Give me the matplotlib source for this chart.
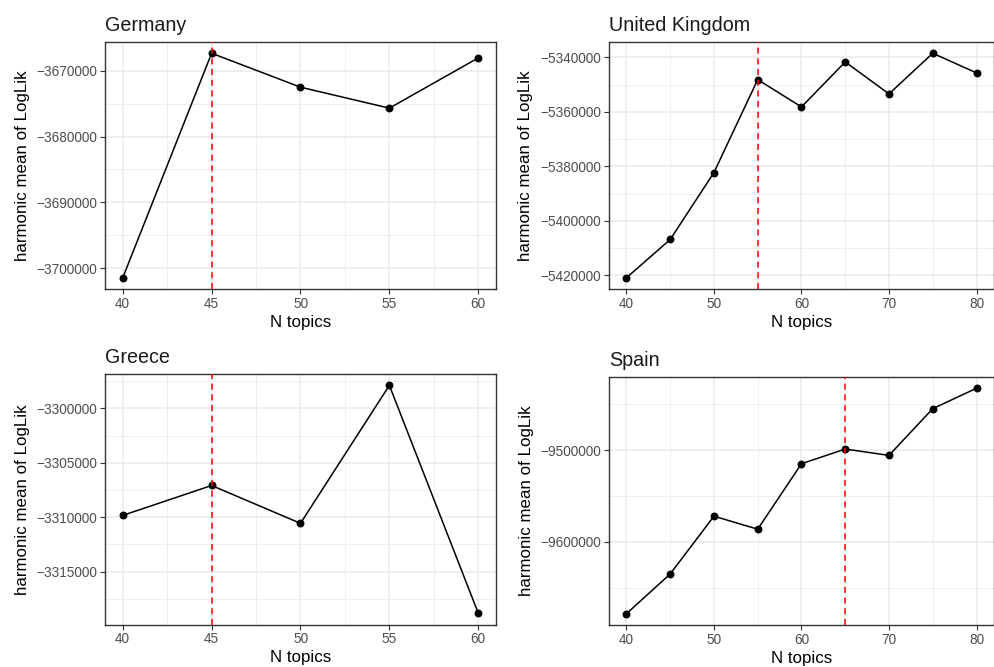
import matplotlib
matplotlib.use('Agg')
import matplotlib.pyplot as plt
from matplotlib.ticker import MultipleLocator, FuncFormatter

plt.rcParams['font.family'] = ['Liberation Sans', 'DejaVu Sans']

# 데이터
germany_k = [40, 45, 50, 55, 60]
germany_ll = [-3701470, -3667320, -3672480, -3675670, -3668030]
germany_best = 45

uk_k = [40, 45, 50, 55, 60, 65, 70, 75, 80]
uk_ll = [-5420850, -5406810, -5382270, -5348200, -5358210,
         -5341710, -5353440, -5338530, -5345730]
uk_best = 55

greece_k = [40, 45, 50, 55, 60]
greece_ll = [-3309840, -3307090, -3310570, -3297890, -3318820]
greece_best = 45

spain_k = [40, 45, 50, 55, 60, 65, 70, 75, 80]
spain_ll = [-9678180, -9634910, -9572000, -9586180, -9514910,
            -9498910, -9505820, -9454910, -9432730]
spain_best = 65

# 패널 설정: (제목, x, y, 최적 k, 위치, x major, y major)
panels = [
    ('Germany', germany_k, germany_ll, germany_best,
     [0.1055, 0.5667, 0.3930, 0.3703], 5, 10000),
    ('United Kingdom', uk_k, uk_ll, uk_best,
     [0.6120, 0.5667, 0.3870, 0.3703], 10, 20000),
    ('Greece', greece_k, greece_ll, greece_best,
     [0.1055, 0.0637, 0.3930, 0.3756], 5, 5000),
    ('Spain', spain_k, spain_ll, spain_best,
     [0.6120, 0.0630, 0.3870, 0.3718], 10, 100000),
]

fmt = FuncFormatter(lambda v, p: f'{int(round(v))}'.replace('-', '\u2212'))

fig = plt.figure(figsize=(9.95, 6.67), dpi=100)

for title, xs, ys, best, pos, xmaj, ymaj in panels:
    ax = fig.add_axes(pos)
    ax.set_axisbelow(True)
    ax.xaxis.set_major_locator(MultipleLocator(xmaj))
    ax.xaxis.set_minor_locator(MultipleLocator(xmaj / 2))
    ax.yaxis.set_major_locator(MultipleLocator(ymaj))
    ax.yaxis.set_minor_locator(MultipleLocator(ymaj / 2))
    ax.yaxis.set_major_formatter(fmt)
    ax.grid(True, which='major', color='#EBEBEB', linewidth=1.1)
    ax.grid(True, which='minor', color='#EBEBEB', linewidth=0.55)

    ax.plot(xs, ys, color='black', linewidth=1.1, zorder=3)
    ax.scatter(xs, ys, color='black', s=22, zorder=4)
    ax.axvline(best, color='red', linestyle=(0, (4, 3)), linewidth=1.1, zorder=5)
    ax.margins(0.05)

    for sp in ax.spines.values():
        sp.set_color('#333333')
        sp.set_linewidth(1.0)
    ax.tick_params(which='major', direction='out', length=3.5, width=0.8,
                   color='#333333', labelcolor='#4D4D4D', labelsize=9.8, pad=2)
    ax.tick_params(which='minor', length=0)

    ax.set_xlabel('N topics', fontsize=12.2, color='black', labelpad=3)
    ax.set_ylabel('harmonic mean of LogLik', fontsize=12.2, color='black', labelpad=5)
    ax.set_title(title, loc='left', fontsize=14.2, color='#1A1A1A', pad=8)

fig.savefig('out.png', dpi=100)
